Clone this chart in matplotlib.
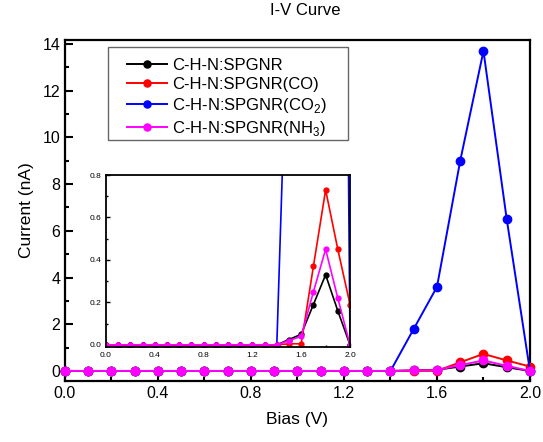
import matplotlib
matplotlib.use('Agg')
import matplotlib.pyplot as plt
from matplotlib.patches import Rectangle
from matplotlib.ticker import MultipleLocator
import numpy as np

plt.rcParams['font.family'] = ['Liberation Sans', 'DejaVu Sans']
plt.rcParams['mathtext.fontset'] = 'custom'
plt.rcParams['mathtext.rm'] = 'Liberation Sans'

# Bias values (V)
bias = [0.0, 0.1, 0.2, 0.3, 0.4, 0.5, 0.6, 0.7, 0.8, 0.9, 1.0,
        1.1, 1.2, 1.3, 1.4, 1.5, 1.6, 1.7, 1.8, 1.9, 2.0]

# Current (nA)
pristine = [0, 0, 0, 0, 0, 0, 0, 0, 0, 0, 0,
            0, 0, 0, 0, 0.025, 0.05, 0.19, 0.33, 0.16, 0.0]
co = [0, 0, 0, 0, 0, 0, 0, 0, 0, 0, 0,
      0, 0, 0, 0, 0.005, 0.005, 0.37, 0.73, 0.45, 0.19]
co2 = [0, 0, 0, 0, 0, 0, 0, 0, 0, 0, 0,
       0, 0, 0, 0, 1.8, 3.6, 9.0, 13.7, 6.5, 0.0]
nh3 = [0, 0, 0, 0, 0, 0, 0, 0, 0, 0, 0,
       0, 0, 0, 0, 0.02, 0.04, 0.25, 0.45, 0.22, 0.0]

labels = ['C-H-N:SPGNR', 'C-H-N:SPGNR(CO)',
          'C-H-N:SPGNR(CO$_2$)', 'C-H-N:SPGNR(NH$_3$)']
colors = ['#000000', '#ff0000', '#0000ff', '#ff00ff']
series = [pristine, co, co2, nh3]

fig = plt.figure(figsize=(5.43, 4.42), dpi=100)
ax = fig.add_axes([0.1197, 0.138, 0.8563, 0.7715])

for y, c, lab in zip(series, colors, labels):
    ax.plot(bias, y, '-o', color=c, lw=1.4, ms=6, label=lab, clip_on=False, zorder=3)

ax.set_xlim(0, 2.0)
ax.set_ylim(-0.43, 14.17)
ax.xaxis.set_major_locator(MultipleLocator(0.4))
ax.xaxis.set_minor_locator(MultipleLocator(0.2))
ax.yaxis.set_major_locator(MultipleLocator(2))
ax.yaxis.set_minor_locator(MultipleLocator(1))
ax.tick_params(which='both', direction='in', top=False, right=False, labelsize=11.5, width=1.5)
ax.tick_params(which='major', length=6)
ax.tick_params(which='minor', length=3)
for s in ax.spines.values():
    s.set_linewidth(1.6)
ax.set_xlabel('Bias (V)', fontsize=12.5, labelpad=8)
ax.set_ylabel('Current (nA)', fontsize=12.5, labelpad=6)
ax.set_title('I-V Curve', fontsize=12, pad=18, x=0.517)

# legend box drawn separately so the entries keep their inner margin
ax.add_patch(Rectangle((0.0925, 0.7072), 0.5161, 0.2723, transform=ax.transAxes,
                       facecolor='white', edgecolor='#666666', lw=1.0, zorder=4))
leg = ax.legend(loc='upper left', bbox_to_anchor=(0.133, 0.948), fontsize=12,
                frameon=False, handlelength=2.4, borderpad=0, labelspacing=0.25,
                handletextpad=0.3, markerscale=0.85, borderaxespad=0)
leg.set_zorder(5)

# Inset
axin = fig.add_axes([0.1952, 0.215, 0.4494, 0.389])
for y, c in zip([co2, pristine, co, nh3], ['#0000ff', '#000000', '#ff0000', '#ff00ff']):
    axin.plot(bias, y, '-o', color=c, lw=1.2, ms=3.5)
axin.set_xlim(0, 2.0)
axin.set_ylim(-0.01, 0.8)
axin.xaxis.set_major_locator(MultipleLocator(0.4))
axin.xaxis.set_minor_locator(MultipleLocator(0.2))
axin.yaxis.set_major_locator(MultipleLocator(0.2))
axin.yaxis.set_minor_locator(MultipleLocator(0.1))
axin.tick_params(which='both', direction='in', top=False, right=False, labelsize=6, width=1.0)
axin.tick_params(which='major', length=3)
axin.tick_params(which='minor', length=1.5)
for s in axin.spines.values():
    s.set_linewidth(1.3)

fig.savefig('out.png', dpi=100)
